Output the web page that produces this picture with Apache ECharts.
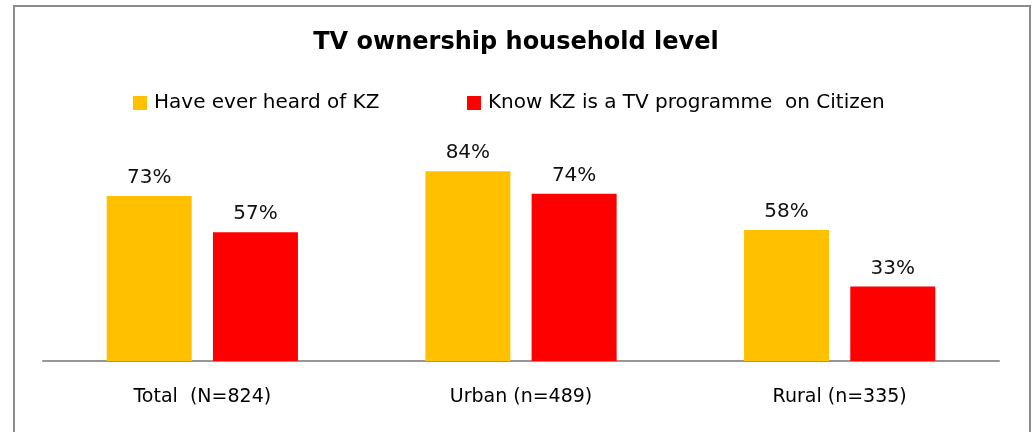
<!DOCTYPE html>
<html>
<head>
<meta charset="utf-8">
<script src="https://cdn.jsdelivr.net/npm/echarts@6/dist/echarts.min.js"></script>
<style>
  html, body { margin: 0; padding: 0; background: #fff; }
  #main { width: 1032px; height: 432px; }
</style>
</head>
<body>
<div id="main"></div>
<script>
// categories and values
var categories = ['Total  (N=824)', 'Urban (n=489)', 'Rural (n=335)'];
var heardKZ = [73, 84, 58];
var knowKZ = [57, 74, 33];
var seriesNames = ['Have ever heard of KZ', 'Know KZ is a TV programme  on Citizen'];

var myChart = echarts.init(document.getElementById('main'));

var labelStyle = {
    show: true,
    position: 'top',
    distance: 8,
    fontFamily: 'DejaVu Sans',
    fontSize: 20,
    color: '#111',
    formatter: '{c}%'
};

var legendText = { fontFamily: 'DejaVu Sans', fontSize: 20, color: '#000', padding: [0, 0, 0, 2] };

var option = {
    animation: false,
    backgroundColor: '#fff',
    title: {
        text: 'TV ownership household level',
        left: 'center',
        top: 26,
        textStyle: {
            fontFamily: 'DejaVu Sans',
            fontWeight: 'bold',
            fontSize: 24,
            color: '#000'
        }
    },
    // two legends so each entry sits where it does in the original
    legend: [{
        data: [seriesNames[0]],
        left: 128,
        top: 88,
        itemWidth: 14,
        itemHeight: 14,
        icon: 'rect',
        textStyle: legendText
    }, {
        data: [seriesNames[1]],
        left: 462,
        top: 88,
        itemWidth: 14,
        itemHeight: 14,
        icon: 'rect',
        textStyle: legendText
    }],
    grid: {
        left: 43,
        right: 33,
        top: 135,
        bottom: 71
    },
    xAxis: {
        type: 'category',
        data: categories,
        axisLine: { lineStyle: { color: '#969696', width: 2 } },
        axisTick: { show: false },
        axisLabel: {
            margin: 27,
            fontFamily: 'DejaVu Sans',
            fontSize: 19,
            color: '#000'
        }
    },
    yAxis: {
        type: 'value',
        min: 0,
        max: 100,
        show: false,
        splitLine: { show: false }
    },
    graphic: [{
        type: 'rect',
        shape: { x: 14, y: 6, width: 1016, height: 440 },
        style: { fill: 'none', stroke: '#8c8c8c', lineWidth: 2 },
        silent: true
    }],
    series: [{
        name: seriesNames[0],
        type: 'bar',
        data: heardKZ,
        barWidth: 85,
        barGap: '25%',
        itemStyle: { color: '#FFC000' },
        label: labelStyle
    }, {
        name: seriesNames[1],
        type: 'bar',
        data: knowKZ,
        barWidth: 85,
        itemStyle: { color: '#FF0000' },
        label: labelStyle
    }]
};

myChart.setOption(option);
</script>
</body>
</html>
